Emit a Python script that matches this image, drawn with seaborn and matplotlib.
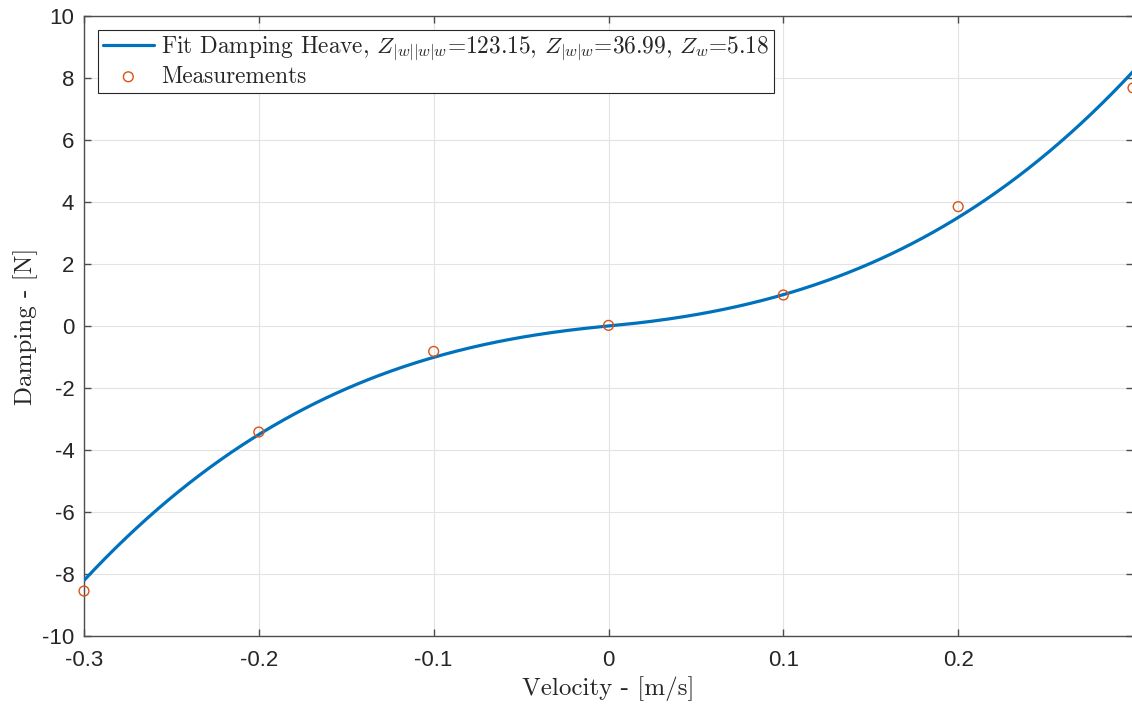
import numpy as np
import pandas as pd
import matplotlib
matplotlib.use("Agg")
import matplotlib.pyplot as plt
import seaborn as sns

# Fit coefficients (from legend)
Z_www = 123.15
Z_ww = 36.99
Z_w = 5.18

# Measurements
meas_v = [-0.3, -0.2, -0.1, 0.0, 0.1, 0.2, 0.3]
meas_d = [-8.55, -3.42, -0.82, 0.02, 1.00, 3.85, 7.68]

xticks = [-0.3, -0.2, -0.1, 0, 0.1, 0.2]
xticklabels = ["-0.3", "-0.2", "-0.1", "0", "0.1", "0.2"]
yticks = [-10, -8, -6, -4, -2, 0, 2, 4, 6, 8, 10]
yticklabels = ["-10", "-8", "-6", "-4", "-2", "0", "2", "4", "6", "8", "10"]

sns.set_theme(style="white")
plt.rcParams["mathtext.fontset"] = "cm"
plt.rcParams["font.family"] = ["Liberation Sans", "DejaVu Sans"]

v = np.linspace(-0.3, 0.3, 400)
fit = Z_www * v**3 + Z_ww * v * np.abs(v) + Z_w * v
df_fit = pd.DataFrame({"v": v, "d": fit})
df_meas = pd.DataFrame({"v": meas_v, "d": meas_d})

fig = plt.figure(figsize=(11.32, 7.07), dpi=100)
ax = fig.add_axes([84 / 1132, 71 / 707, 1049 / 1132, 620 / 707])

blue = "#0072BD"
orange = "#D95319"

sns.lineplot(data=df_fit, x="v", y="d", ax=ax, color=blue, linewidth=2.3,
             label=r"Fit Damping Heave, $Z_{|w||w|w}$=123.15, $Z_{|w|w}$=36.99, $Z_w$=5.18",
             zorder=3)
sns.scatterplot(data=df_meas, x="v", y="d", ax=ax, marker="o", s=50,
                facecolor="none", edgecolor=orange, linewidth=1.0,
                label="Measurements", zorder=4, clip_on=False)

ax.set_xlim(-0.3, 0.3)
ax.set_ylim(-10, 10)
ax.set_xticks(xticks)
ax.set_xticklabels(xticklabels)
ax.set_yticks(yticks)
ax.set_yticklabels(yticklabels)
ax.grid(True, color="#e3e3e3", linewidth=0.8)
ax.set_axisbelow(True)

for s in ax.spines.values():
    s.set_color("#4d4d4d")
    s.set_linewidth(1.0)

ax.tick_params(axis="both", which="both", direction="in", length=5, width=1.0,
               color="#4d4d4d", labelsize=16, labelcolor="#262626",
               top=True, right=True, bottom=True, left=True)
ax.tick_params(axis="x", pad=10)
ax.tick_params(axis="y", pad=7)

ax.set_xlabel("Velocity - [m/s]", family="cmr10", fontsize=18, color="#262626", labelpad=4)
ax.set_ylabel("Damping - [N]", family="cmr10", fontsize=18, color="#262626")
ax.yaxis.set_label_coords(-46 / 1049, 0.5)

leg = ax.legend(loc="upper left", bbox_to_anchor=(14 / 1049, 1 - 14 / 620),
                prop={"family": "cmr10", "size": 16.8}, frameon=True, fancybox=False,
                edgecolor="#262626", framealpha=1, borderaxespad=0,
                handlelength=2.2, handletextpad=0.3, borderpad=0.2, labelspacing=0.1)
leg.get_frame().set_linewidth(0.8)

fig.savefig("out.png", dpi=100)
